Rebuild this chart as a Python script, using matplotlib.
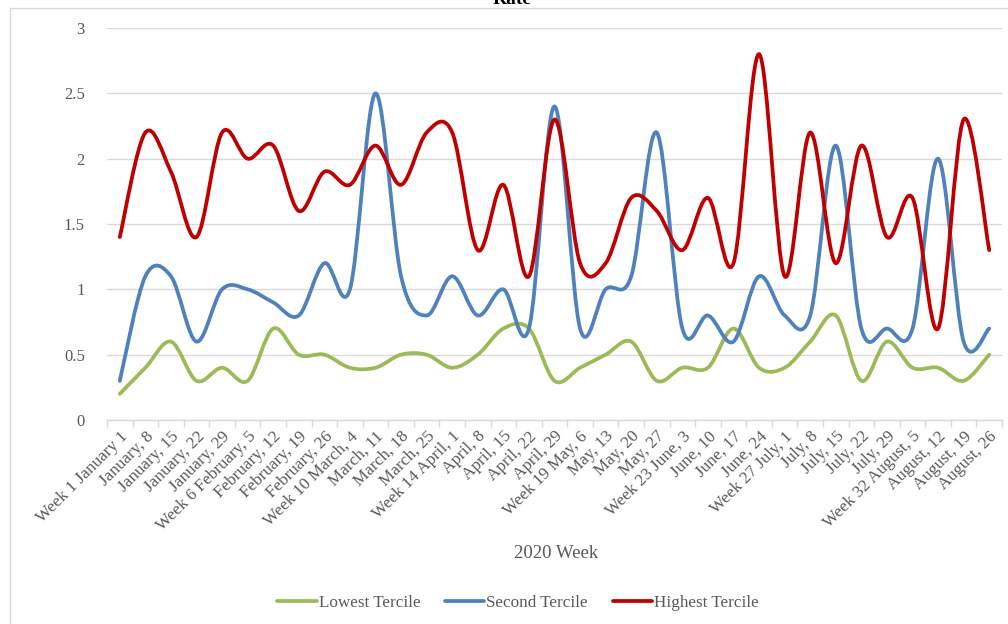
import matplotlib
matplotlib.use("Agg")
import matplotlib.pyplot as plt
from matplotlib.path import Path
from matplotlib.patches import PathPatch, Rectangle
from matplotlib.lines import Line2D
import numpy as np

weeks = ["Week 1 January 1", "January, 8", "January, 15", "January, 22", "January, 29",
         "Week 6 February, 5", "February, 12", "February, 19", "February, 26",
         "Week 10 March, 4", "March, 11", "March, 18", "March, 25",
         "Week 14 April, 1", "April, 8", "April, 15", "April, 22", "April, 29",
         "Week 19 May, 6", "May, 13", "May, 20", "May, 27",
         "Week 23 June, 3", "June, 10", "June, 17", "June, 24",
         "Week 27 July, 1", "July, 8", "July, 15", "July, 22", "July, 29",
         "Week 32 August, 5", "August, 12", "August, 19", "August, 26"]

lowest = [0.2, 0.4, 0.6, 0.3, 0.4, 0.3, 0.7, 0.5, 0.5, 0.4, 0.4, 0.5, 0.5,
          0.4, 0.5, 0.7, 0.7, 0.3, 0.4, 0.5, 0.6, 0.3, 0.4, 0.4, 0.7, 0.4,
          0.4, 0.6, 0.8, 0.3, 0.6, 0.4, 0.4, 0.3, 0.5]
second = [0.3, 1.1, 1.1, 0.6, 1.0, 1.0, 0.9, 0.8, 1.2, 1.0, 2.5, 1.1, 0.8,
          1.1, 0.8, 1.0, 0.7, 2.4, 0.7, 1.0, 1.1, 2.2, 0.7, 0.8, 0.6, 1.1,
          0.8, 0.8, 2.1, 0.7, 0.7, 0.7, 2.0, 0.6, 0.7]
highest = [1.4, 2.2, 1.9, 1.4, 2.2, 2.0, 2.1, 1.6, 1.9, 1.8, 2.1, 1.8, 2.2,
           2.2, 1.3, 1.8, 1.1, 2.3, 1.2, 1.2, 1.7, 1.6, 1.3, 1.7, 1.2, 2.8,
           1.1, 2.2, 1.2, 2.1, 1.4, 1.7, 0.7, 2.3, 1.3]

series = [("Lowest Tercile", lowest, "#9BBB59"),
          ("Second Tercile", second, "#4F81BD"),
          ("Highest Tercile", highest, "#C00000")]

FONT = "Liberation Serif"
TXT = "#595959"
GRID = "#D9D9D9"


def smooth_path(xs, ys):
    # cubic bezier through every point, tangents from the neighbours (Excel style)
    pts = np.column_stack([xs, ys]).astype(float)
    n = len(pts)
    verts = [pts[0]]
    codes = [Path.MOVETO]
    for i in range(n - 1):
        p0 = pts[i - 1] if i > 0 else pts[i]
        p1, p2 = pts[i], pts[i + 1]
        p3 = pts[i + 2] if i + 2 < n else pts[i + 1]
        verts += [p1 + (p2 - p0) / 6, p2 - (p3 - p1) / 6, p2]
        codes += [Path.CURVE4] * 3
    return Path(verts, codes)


fig = plt.figure(figsize=(10.08, 6.24), dpi=100)
ax = fig.add_axes([107 / 1008, 1 - 420 / 624, 895 / 1008, 392 / 624])

x = np.arange(len(weeks))
for name, vals, col in series:
    ax.add_patch(PathPatch(smooth_path(x, vals), fill=False, edgecolor=col,
                           lw=2.7, capstyle="round", joinstyle="round", zorder=3))

ax.set_xlim(-0.5, len(weeks) - 0.5)
ax.set_ylim(0, 3)
ax.set_yticks(np.arange(0, 3.01, 0.5))
ax.set_yticklabels(["0", "0.5", "1", "1.5", "2", "2.5", "3"])
ax.yaxis.grid(True, color=GRID, lw=1)
ax.set_axisbelow(True)
for s in ["top", "right", "left"]:
    ax.spines[s].set_visible(False)
ax.spines["bottom"].set_color(GRID)
ax.spines["bottom"].set_linewidth(1)
ax.tick_params(axis="y", length=0, pad=16, labelsize=12, labelcolor=TXT)

ax.set_xticks(x)
ax.set_xticklabels(weeks, rotation=45, ha="right", va="top", rotation_mode="anchor",
                   fontsize=12.3, color=TXT, family=FONT)
ax.tick_params(axis="x", which="major", length=0, pad=6)
ax.set_xticks(np.arange(-0.5, len(weeks), 1), minor=True)
ax.tick_params(axis="x", which="minor", length=5, color=GRID, width=1)
for lab in ax.get_yticklabels():
    lab.set_family(FONT)

fig.text(556 / 1008, 1 - 553 / 624, "2020 Week", ha="center", va="center",
         fontsize=13.5, color=TXT, family=FONT)
fig.text(512 / 1008, 1 - 4 / 624, "Rate", ha="center", va="baseline",
         fontsize=14, weight="bold", color="black", family=FONT)

handles = [Line2D([], [], color=c, lw=2.7, solid_capstyle="round") for _, _, c in series]
fig.legend(handles, [n for n, _, _ in series], loc="center", ncol=3,
           bbox_to_anchor=(518 / 1008, 1 - 603 / 624), frameon=False,
           handlelength=2.3, handletextpad=0.12, columnspacing=1.45,
           prop={"family": FONT, "size": 12.3}, labelcolor=TXT)

fig.patches.append(Rectangle((10 / 1008, -0.1), 2, 1.1 - 8 / 624, transform=fig.transFigure,
                             fill=False, edgecolor=GRID, lw=1, zorder=0))

fig.savefig("out.png", dpi=100)
